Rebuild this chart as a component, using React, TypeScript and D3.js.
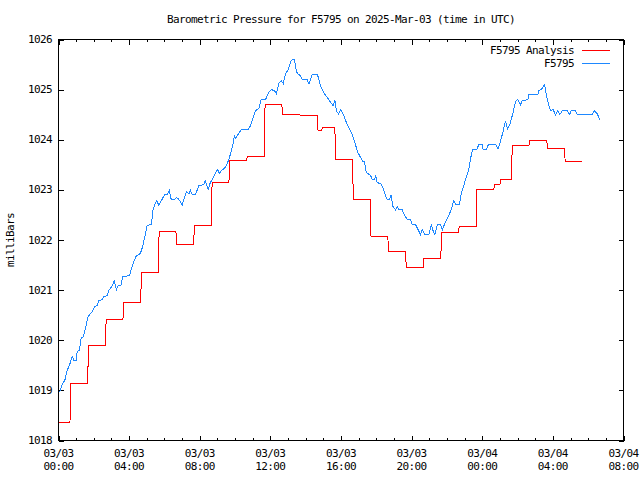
import React from "react";
import * as d3 from "d3";

// ---- data ----
const titleText = "Barometric Pressure for F5795 on 2025-Mar-03 (time in UTC)";
const yAxisLabel = "milliBars";
const seriesNames = ["F5795 Analysis", "F5795"];

// x ticks (hours since 2025-03-03 00:00 UTC)
const xTickHours = [0, 4, 8, 12, 16, 20, 24, 28, 32];
const xTickDates = ["03/03", "03/03", "03/03", "03/03", "03/03", "03/03", "03/04", "03/04", "03/04"];
const xTickTimes = ["00:00", "04:00", "08:00", "12:00", "16:00", "20:00", "00:00", "04:00", "08:00"];
const yTicks = [1018, 1019, 1020, 1021, 1022, 1023, 1024, 1025, 1026];

// Analysis (step series): start hour of each level and its value
const analysisStart = [0, 0.65, 1.65, 2.65, 3.65, 4.65, 5.65, 6.65, 7.65, 8.65, 9.65, 10.65, 11.65, 12.65, 13.65, 14.65, 14.9, 15.65, 16.65, 17.65, 18.65, 19.65, 20.65, 21.65, 22.65, 23.65, 24.65, 25.0, 25.65, 26.65, 27.65, 28.65];
const analysisValue = [1018.36, 1019.14, 1019.9, 1020.41, 1020.75, 1021.35, 1022.17, 1021.91, 1022.29, 1023.14, 1023.59, 1023.67, 1024.7, 1024.5, 1024.48, 1024.19, 1024.25, 1023.6, 1022.81, 1022.07, 1021.77, 1021.45, 1021.63, 1022.15, 1022.27, 1023.0, 1023.11, 1023.21, 1023.89, 1023.99, 1023.82, 1023.56];
const analysisEnd = 29.65;

// Observations
const obsHours = [0.057, 0.21, 0.357, 0.493, 0.623, 0.776, 0.867, 1.003, 1.059, 1.189, 1.286, 1.376, 1.456, 1.569, 1.66, 1.812, 1.943, 2.056, 2.192, 2.283, 2.475, 2.566, 2.758, 2.849, 3.042, 3.155, 3.285, 3.381, 3.529, 3.642, 4.021, 4.135, 4.288, 4.418, 4.588, 4.701, 4.797, 4.928, 5.024, 5.267, 5.341, 5.454, 5.568, 5.681, 5.834, 6.004, 6.157, 6.27, 6.383, 6.57, 6.683, 6.814, 7.006, 7.136, 7.25, 7.38, 7.476, 7.572, 7.759, 7.946, 8.229, 8.309, 8.382, 8.479, 8.569, 8.705, 8.892, 9.022, 9.102, 9.215, 9.402, 9.555, 9.685, 9.798, 9.895, 9.968, 10.042, 10.155, 10.348, 10.722, 10.874, 11.061, 11.158, 11.345, 11.481, 11.724, 11.911, 12.047, 12.234, 12.347, 12.477, 12.613, 12.727, 12.857, 12.987, 13.14, 13.236, 13.366, 13.48, 13.61, 13.706, 13.802, 14.086, 14.188, 14.369, 14.669, 14.839, 14.952, 15.094, 15.275, 15.462, 15.558, 15.649, 15.745, 15.858, 15.989, 16.125, 16.272, 16.425, 16.595, 16.708, 16.821, 16.963, 17.105, 17.235, 17.331, 17.427, 17.671, 17.767, 17.915, 17.966, 18.039, 18.294, 18.424, 18.577, 18.747, 18.832, 18.945, 19.087, 19.183, 19.274, 19.466, 19.608, 19.75, 19.937, 20.033, 20.22, 20.373, 20.503, 20.6, 20.747, 20.973, 21.126, 21.2, 21.313, 21.466, 21.636, 21.732, 21.919, 22.106, 22.259, 22.389, 22.485, 22.712, 22.825, 22.955, 23.091, 23.238, 23.335, 23.448, 23.703, 23.805, 23.986, 24.043, 24.241, 24.354, 24.751, 24.892, 25.034, 25.176, 25.318, 25.431, 25.572, 25.753, 25.884, 26.014, 26.167, 26.263, 26.58, 26.637, 27.147, 27.203, 27.396, 27.526, 27.639, 27.769, 27.866, 28.019, 28.149, 28.279, 28.393, 28.529, 28.812, 28.959, 29.038, 29.281, 29.378, 30.227, 30.358, 30.51, 30.658];
const obsValues = [1018.96, 1019.12, 1019.2, 1019.4, 1019.5, 1019.68, 1019.6, 1019.6, 1019.78, 1019.8, 1020.06, 1020.06, 1020.13, 1020.31, 1020.46, 1020.53, 1020.59, 1020.67, 1020.69, 1020.79, 1020.81, 1020.87, 1020.89, 1020.99, 1021.09, 1021.18, 1021.01, 1021.09, 1021.09, 1021.27, 1021.29, 1021.43, 1021.59, 1021.69, 1021.71, 1021.79, 1021.92, 1022.12, 1022.29, 1022.31, 1022.59, 1022.71, 1022.79, 1022.69, 1022.79, 1022.9, 1022.9, 1022.99, 1022.81, 1022.81, 1022.85, 1022.81, 1022.7, 1022.85, 1022.97, 1022.92, 1022.99, 1022.9, 1022.9, 1023.09, 1023.1, 1023.19, 1023.1, 1023.01, 1023.12, 1023.21, 1023.34, 1023.41, 1023.32, 1023.39, 1023.43, 1023.52, 1023.65, 1023.79, 1023.94, 1024.08, 1024.02, 1024.1, 1024.2, 1024.2, 1024.28, 1024.48, 1024.58, 1024.62, 1024.8, 1024.8, 1024.95, 1025.0, 1024.98, 1024.92, 1025.13, 1025.18, 1025.12, 1025.32, 1025.38, 1025.55, 1025.6, 1025.6, 1025.35, 1025.3, 1025.28, 1025.2, 1025.2, 1025.11, 1025.3, 1025.3, 1025.08, 1025.0, 1024.9, 1024.82, 1024.72, 1024.68, 1024.79, 1024.57, 1024.52, 1024.6, 1024.51, 1024.37, 1024.26, 1024.14, 1024.02, 1023.9, 1023.74, 1023.65, 1023.57, 1023.57, 1023.35, 1023.29, 1023.21, 1023.21, 1023.3, 1023.15, 1023.11, 1022.99, 1022.82, 1022.81, 1022.89, 1022.67, 1022.6, 1022.67, 1022.6, 1022.6, 1022.49, 1022.41, 1022.4, 1022.31, 1022.31, 1022.2, 1022.11, 1022.2, 1022.11, 1022.11, 1022.31, 1022.2, 1022.11, 1022.31, 1022.31, 1022.2, 1022.36, 1022.49, 1022.62, 1022.79, 1022.71, 1022.71, 1022.95, 1023.09, 1023.25, 1023.4, 1023.62, 1023.8, 1023.81, 1023.91, 1023.91, 1023.81, 1023.81, 1023.91, 1023.91, 1023.81, 1023.97, 1024.16, 1024.38, 1024.22, 1024.32, 1024.55, 1024.77, 1024.8, 1024.7, 1024.78, 1024.8, 1024.9, 1024.9, 1024.98, 1025.02, 1025.1, 1024.88, 1024.68, 1024.58, 1024.6, 1024.5, 1024.58, 1024.5, 1024.58, 1024.58, 1024.5, 1024.58, 1024.58, 1024.5, 1024.5, 1024.58, 1024.52, 1024.4];

// ---- layout ----
const W = 640;
const H = 480;
const plotLeft = 58.5;
const plotRight = 623.5;
const plotTop = 39.5;
const plotBottom = 440.5;
const FONT = "'DejaVu Sans Mono', 'Liberation Mono', monospace";
const FS = 11;
const LS = -0.62;
const RED = "#ff0000";
const BLUE = "#1e88ff";

export default function App() {
  const x = d3.scaleLinear().domain([0, 32]).range([plotLeft, plotRight]);
  const y = d3.scaleLinear().domain([1018, 1026]).range([plotBottom, plotTop]);

  // analysis points: each level with a short transition into it
  const analysisPts: [number, number][] = [];
  analysisStart.forEach((s, i) => {
    if (i > 0) analysisPts.push([s, analysisValue[i - 1]]);
    analysisPts.push([i > 0 ? s + 0.05 : s, analysisValue[i]]);
  });
  analysisPts.push([analysisEnd, analysisValue[analysisValue.length - 1]]);

  const obsPts: [number, number][] = obsHours.map((h, i) => [h, obsValues[i]]);

  const line = d3
    .line<[number, number]>()
    .x((d) => x(d[0]))
    .y((d) => y(d[1]));

  const minorHours = d3.range(0, 33, 1).filter((h) => h % 4 !== 0);
  const textStyle: React.CSSProperties = { fontFamily: FONT, fontSize: FS, letterSpacing: LS };

  return (
    <svg width={W} height={H} style={{ position: "absolute", left: 0, top: 0, background: "#fff" }}>
      <rect x={0} y={0} width={W} height={H} fill="#fff" />
      <g shapeRendering="crispEdges" stroke="#000" strokeWidth={1}>
        {/* x ticks bottom/top */}
        {xTickHours.map((h) => (
          <g key={"xt" + h}>
            <line x1={Math.round(x(h)) + 0.5} x2={Math.round(x(h)) + 0.5} y1={plotBottom} y2={plotBottom - 5} />
            <line x1={Math.round(x(h)) + 0.5} x2={Math.round(x(h)) + 0.5} y1={plotTop} y2={plotTop + 5} />
          </g>
        ))}
        {minorHours.map((h) => (
          <g key={"xm" + h}>
            <line x1={Math.round(x(h)) + 0.5} x2={Math.round(x(h)) + 0.5} y1={plotBottom} y2={plotBottom - 2.5} />
            <line x1={Math.round(x(h)) + 0.5} x2={Math.round(x(h)) + 0.5} y1={plotTop} y2={plotTop + 2.5} />
          </g>
        ))}
        {yTicks.map((v) => (
          <g key={"yt" + v}>
            <line x1={plotLeft} x2={plotLeft + 5} y1={Math.round(y(v)) + 0.5} y2={Math.round(y(v)) + 0.5} />
            <line x1={plotRight} x2={plotRight - 5} y1={Math.round(y(v)) + 0.5} y2={Math.round(y(v)) + 0.5} />
          </g>
        ))}
      </g>

      {/* series */}
      <path d={line(analysisPts) || ""} fill="none" stroke={RED} strokeWidth={1} shapeRendering="crispEdges" />
      <path d={line(obsPts) || ""} fill="none" stroke={BLUE} strokeWidth={1} shapeRendering="crispEdges" />

      {/* frame */}
      <rect
        x={plotLeft}
        y={plotTop}
        width={plotRight - plotLeft}
        height={plotBottom - plotTop}
        fill="none"
        stroke="#000"
        strokeWidth={1}
        shapeRendering="crispEdges"
      />

      {/* y tick labels */}
      {yTicks.map((v) => (
        <text key={"yl" + v} x={52} y={y(v)} textAnchor="end" dominantBaseline="central" style={textStyle}>
          {v}
        </text>
      ))}
      {/* x tick labels */}
      {xTickHours.map((h, i) => (
        <g key={"xl" + h}>
          <text x={x(h)} y={453} textAnchor="middle" dominantBaseline="central" style={textStyle}>
            {xTickDates[i]}
          </text>
          <text x={x(h)} y={466} textAnchor="middle" dominantBaseline="central" style={textStyle}>
            {xTickTimes[i]}
          </text>
        </g>
      ))}

      {/* title */}
      <text x={(plotLeft + plotRight) / 2} y={19} textAnchor="middle" dominantBaseline="central" style={textStyle}>
        {titleText}
      </text>
      {/* y axis label */}
      <text
        transform={`translate(10, ${(plotTop + plotBottom) / 2}) rotate(-90)`}
        textAnchor="middle"
        dominantBaseline="central"
        style={textStyle}
      >
        {yAxisLabel}
      </text>

      {/* legend */}
      {seriesNames.map((name, i) => (
        <g key={name}>
          <text x={574} y={50 + i * 13} textAnchor="end" dominantBaseline="central" style={textStyle}>
            {name}
          </text>
          <line
            x1={582}
            x2={610}
            y1={50.5 + i * 13}
            y2={50.5 + i * 13}
            stroke={i === 0 ? RED : BLUE}
            strokeWidth={1}
            shapeRendering="crispEdges"
          />
        </g>
      ))}
    </svg>
  );
}
